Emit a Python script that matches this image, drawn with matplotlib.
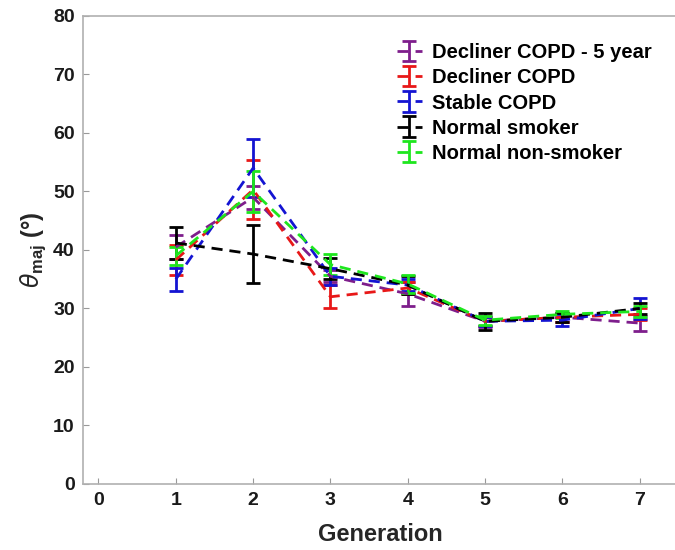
import numpy as np
import matplotlib.pyplot as plt

# Generation numbers
generations = [1, 2, 3, 4, 5, 6, 7]

# mean angle and error per group
labels = ['Decliner COPD - 5 year', 'Decliner COPD', 'Stable COPD',
          'Normal smoker', 'Normal non-smoker']
decliner_5yr = [40.5, 49.0, 35.5, 32.5, 27.8, 28.5, 27.5]
decliner_5yr_err = [2.0, 2.0, 1.0, 2.0, 1.0, 0.8, 1.3]
decliner = [38.3, 50.3, 32.0, 33.5, 27.8, 28.5, 29.0]
decliner_err = [2.5, 5.0, 2.0, 1.0, 0.8, 0.8, 1.0]
stable = [35.0, 54.0, 35.5, 34.0, 27.8, 28.0, 30.0]
stable_err = [2.0, 5.0, 1.5, 1.0, 0.8, 1.0, 1.8]
smoker = [41.2, 39.3, 36.8, 34.0, 27.8, 28.5, 30.0]
smoker_err = [2.8, 4.9, 1.8, 1.6, 1.5, 0.8, 1.0]
non_smoker = [39.0, 50.0, 37.5, 34.2, 28.0, 29.0, 29.5]
non_smoker_err = [1.5, 3.5, 1.8, 1.5, 0.8, 0.6, 1.0]

colors = ['#7e1e8c', '#e81818', '#1414d2', 'black', '#1ee61e']
means = [decliner_5yr, decliner, stable, smoker, non_smoker]
errs = [decliner_5yr_err, decliner_err, stable_err, smoker_err, non_smoker_err]

plt.rcParams['font.family'] = ['Liberation Sans', 'DejaVu Sans']
plt.rcParams['mathtext.fontset'] = 'custom'
plt.rcParams['mathtext.it'] = 'DejaVu Sans:italic'
plt.rcParams['mathtext.rm'] = 'Liberation Sans'
plt.rcParams['mathtext.bf'] = 'Liberation Sans:bold'

fig = plt.figure(figsize=(6.75, 5.5), dpi=100)
ax = fig.add_axes([0.123, 0.12, 0.882, 0.851])

for m, e, c, lab in zip(means, errs, colors, labels):
    ax.errorbar(generations, m, yerr=e, color=c, ls=(0, (4, 2.5)), lw=2,
                elinewidth=2, capsize=5, capthick=2, label=lab)

ax.set_xlim(-0.2, 7.5)
ax.set_ylim(0, 80)
ax.set_xticks(range(0, 8))
ax.set_yticks(range(0, 81, 10))
ax.tick_params(direction='in', length=4, width=0.8, color='#999999',
               labelsize=14, pad=6, labelcolor='#1a1a1a')
for lbl in ax.get_xticklabels() + ax.get_yticklabels():
    lbl.set_fontweight('bold')
for s in ax.spines.values():
    s.set_color('#b0b0b0')
    s.set_linewidth(1.2)

ax.set_xlabel('Generation', fontsize=17, fontweight='bold', color='#262626',
              labelpad=10)
ax.set_ylabel(r'$\theta_{\mathbf{maj}}$ (°)', fontsize=17, fontweight='bold',
              color='#262626', labelpad=4)

leg = ax.legend(loc='upper right', bbox_to_anchor=(0.985, 0.98), frameon=False,
                prop={'weight': 'bold', 'size': 14.5}, handlelength=1.2,
                handletextpad=0.5, labelspacing=0.3)

fig.savefig('out.png', dpi=100)
